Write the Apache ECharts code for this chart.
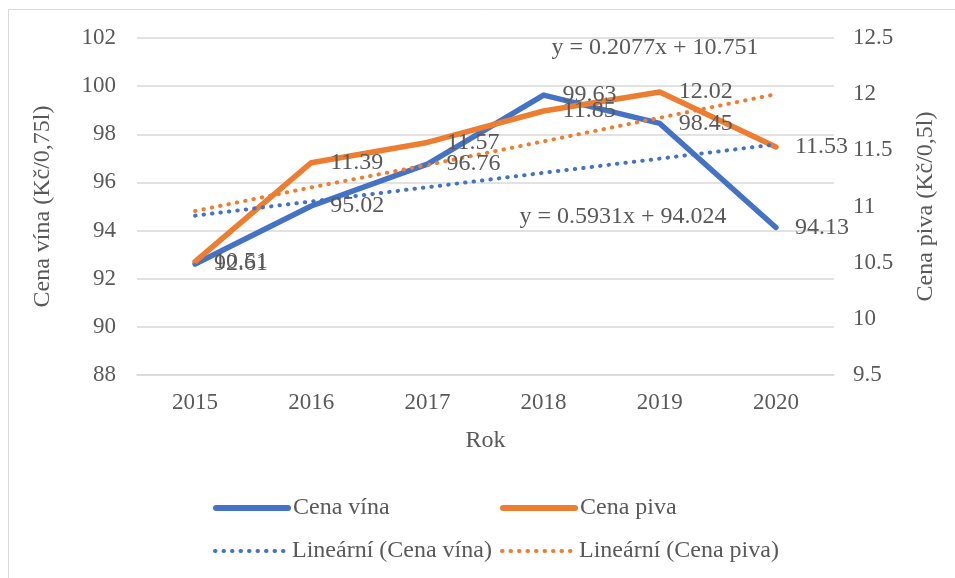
<!DOCTYPE html>
<html>
<head>
<meta charset="utf-8">
<script src="https://cdn.jsdelivr.net/npm/echarts@6/dist/echarts.min.js"></script>
<style>
  html, body { margin: 0; padding: 0; background: #fff; }
  #chart { width: 955px; height: 578px; }
</style>
</head>
<body>
<div id="chart"></div>
<script>
// roky
const years = ['2015', '2016', '2017', '2018', '2019', '2020']
// cena vína (Kč/0,75l) - levá osa
const wine = [92.61, 95.02, 96.76, 99.63, 98.45, 94.13]
// cena piva (Kč/0,5l) - pravá osa
const beer = [10.51, 11.39, 11.57, 11.85, 12.02, 11.53]
// lineární trendy
const wineTrend = [94.62, 95.21, 95.80, 96.40, 96.99, 97.58]
const beerTrend = [10.96, 11.17, 11.37, 11.58, 11.79, 12.00]
const wineEq = 'y = 0.5931x + 94.024'
const beerEq = 'y = 0.2077x + 10.751'

const font = 'Liberation Serif'
const textColor = '#595959'
const blue = '#4472C4'
const orange = '#ED7D31'
const dots = [0.5, 8]

const chart = echarts.init(document.getElementById('chart'))

const legendBase = {
  top: 496,
  padding: 0,
  itemWidth: 72,
  itemHeight: 22,
  itemStyle: { opacity: 0 },
  textStyle: { fontFamily: font, fontSize: 24, color: textColor }
}

chart.setOption({
  backgroundColor: '#fff',
  animation: false,
  textStyle: { fontFamily: font },
  grid: { left: 137, right: 121, top: 38, bottom: 203 },
  legend: [
    Object.assign({}, legendBase, { left: 213, data: ['Cena vína'], lineStyle: { width: 6, cap: 'round' } }),
    Object.assign({}, legendBase, { left: 500, data: ['Cena piva'], lineStyle: { width: 6, cap: 'round' } }),
    Object.assign({}, legendBase, { left: 213, top: 539, data: ['Lineární (Cena vína)'], lineStyle: { width: 4, type: dots, cap: 'round' } }),
    Object.assign({}, legendBase, { left: 500, top: 539, data: ['Lineární (Cena piva)'], lineStyle: { width: 4, type: dots, cap: 'round' } })
  ],
  xAxis: {
    type: 'category',
    data: years,
    boundaryGap: true,
    name: 'Rok',
    nameLocation: 'middle',
    nameGap: 54,
    nameTextStyle: { fontFamily: font, fontSize: 24, color: textColor },
    axisLine: { lineStyle: { color: '#d9d9d9', width: 1.5 } },
    axisTick: { show: false },
    axisLabel: { margin: 16, fontFamily: font, fontSize: 23, color: textColor }
  },
  yAxis: [
    {
      type: 'value',
      min: 88,
      max: 102,
      interval: 2,
      name: 'Cena vína (Kč/0,75l)',
      nameLocation: 'middle',
      nameRotate: 90,
      nameGap: 82,
      nameTextStyle: { fontFamily: font, fontSize: 24, color: textColor },
      axisLine: { show: false },
      axisTick: { show: false },
      axisLabel: { margin: 21, fontFamily: font, fontSize: 23, color: textColor },
      splitLine: { lineStyle: { color: '#d9d9d9', width: 1.5 } }
    },
    {
      type: 'value',
      min: 9.5,
      max: 12.5,
      interval: 0.5,
      name: 'Cena piva (Kč/0,5l)',
      nameLocation: 'middle',
      nameRotate: 90,
      nameGap: 80,
      nameTextStyle: { fontFamily: font, fontSize: 24, color: textColor },
      axisLine: { show: false },
      axisTick: { show: false },
      axisLabel: { margin: 19, fontFamily: font, fontSize: 23, color: textColor },
      splitLine: { show: false }
    }
  ],
  series: [
    {
      name: 'Cena vína',
      type: 'line',
      yAxisIndex: 0,
      data: wine,
      symbol: 'circle',
      symbolSize: 2,
      itemStyle: { color: blue },
      lineStyle: { color: blue, width: 5.5, cap: 'round', join: 'round' },
      label: {
        show: true, position: 'right', distance: 18,
        fontFamily: font, fontSize: 24, color: textColor
      }
    },
    {
      name: 'Cena piva',
      type: 'line',
      yAxisIndex: 1,
      data: beer,
      symbol: 'circle',
      symbolSize: 2,
      itemStyle: { color: orange },
      lineStyle: { color: orange, width: 5.5, cap: 'round', join: 'round' },
      label: {
        show: true, position: 'right', distance: 18,
        fontFamily: font, fontSize: 24, color: textColor
      }
    },
    {
      name: 'Lineární (Cena vína)',
      type: 'line',
      yAxisIndex: 0,
      data: wineTrend,
      symbol: 'none',
      itemStyle: { color: blue },
      lineStyle: { color: blue, width: 4, type: dots, cap: 'round' }
    },
    {
      name: 'Lineární (Cena piva)',
      type: 'line',
      yAxisIndex: 1,
      data: beerTrend,
      symbol: 'none',
      itemStyle: { color: orange },
      lineStyle: { color: orange, width: 4, type: dots, cap: 'round' }
    }
  ],
  graphic: [
    {
      type: 'rect',
      silent: true,
      shape: { x: 8.5, y: 9.5, width: 1000, height: 700 },
      style: { fill: 'none', stroke: '#d9d9d9', lineWidth: 1 }
    },
    {
      type: 'text',
      x: 655, y: 48,
      style: {
        text: beerEq, fill: textColor, font: '24px "Liberation Serif"',
        align: 'center', verticalAlign: 'middle'
      }
    },
    {
      type: 'text',
      x: 623, y: 217,
      style: {
        text: wineEq, fill: textColor, font: '24px "Liberation Serif"',
        align: 'center', verticalAlign: 'middle'
      }
    }
  ]
})
</script>
</body>
</html>
